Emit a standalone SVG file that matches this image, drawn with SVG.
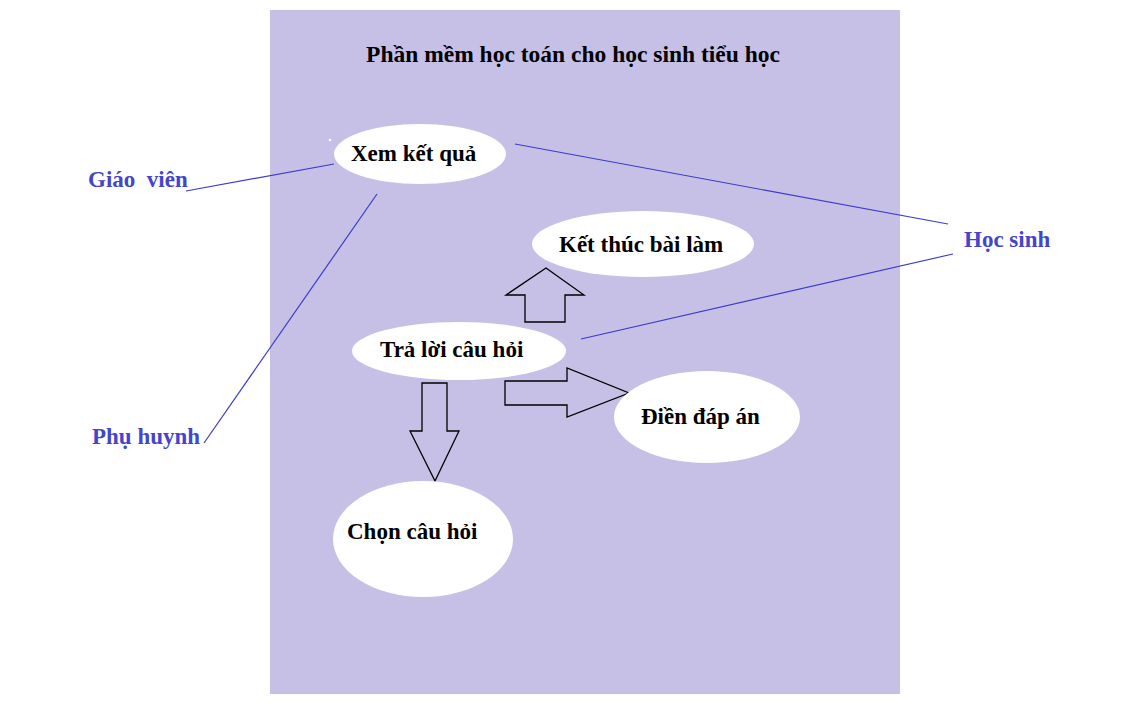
<svg xmlns="http://www.w3.org/2000/svg" width="1132" height="724" viewBox="0 0 1132 724">
<style>
.uc{fill:#ffffff;stroke:none}
.t{font-family:"Liberation Serif","Times New Roman",serif;font-weight:bold;font-size:23px;fill:#000000}
.a{font-family:"Liberation Serif","Times New Roman",serif;font-weight:bold;font-size:23px;fill:#4444cc}
.ln{stroke:#3b3bcc;stroke-width:1.2;fill:none}
.ba{fill:none;stroke:#000000;stroke-width:1.3;stroke-linejoin:miter}
</style>
<rect width="1132" height="724" fill="#ffffff"/>
<rect id="system" x="270" y="10" width="630" height="684" fill="#c6c0e6"/>
<text class="t" x="573" y="62" text-anchor="middle" style="font-size:23.5px">Phần mềm học toán cho học sinh tiểu học</text>
<circle cx="330" cy="140" r="1.3" fill="#ffffff"/>
<g id="connectors">
<line class="ln" x1="186" y1="191" x2="334" y2="164"/>
<line class="ln" x1="204" y1="443" x2="377" y2="194"/>
<line class="ln" x1="515" y1="144" x2="948" y2="224"/>
<line class="ln" x1="581" y1="339" x2="953" y2="254"/>
<polygon class="ba" points="546,268 584,295 565,295 565,322 525,322 525,295 506,295"/>
<polygon class="ba" points="422,383 447,383 447,431 459,431 435,481 410,431 422,431"/>
<polygon class="ba" points="505,381 567,381 567,368 629,393 567,417 567,405 505,405"/>
</g>
<g id="actor-giaovien"><text class="a" x="88" y="187" xml:space="preserve">Giáo  viên</text></g>
<g id="actor-phuhuynh"><text class="a" x="92" y="444">Phụ huynh</text></g>
<g id="actor-hocsinh"><text class="a" x="964" y="247">Học sinh</text></g>
<g id="uc-xemketqua"><ellipse class="uc" cx="420" cy="154" rx="86" ry="30"/><text class="t" x="351" y="161">Xem kết quả</text></g>
<g id="uc-ketthuc"><ellipse class="uc" cx="643" cy="244" rx="111" ry="33"/><text class="t" x="559" y="252">Kết thúc bài làm</text></g>
<g id="uc-traloi"><ellipse class="uc" cx="459" cy="351" rx="107" ry="29"/><text class="t" x="380" y="357">Trả lời câu hỏi</text></g>
<g id="uc-diendapan"><ellipse class="uc" cx="707" cy="417" rx="93" ry="46"/><text class="t" x="641" y="424">Điền đáp án</text></g>
<g id="uc-choncauhoi"><ellipse class="uc" cx="423" cy="539" rx="90" ry="58"/><text class="t" x="347" y="539">Chọn câu hỏi</text></g>
</svg>
